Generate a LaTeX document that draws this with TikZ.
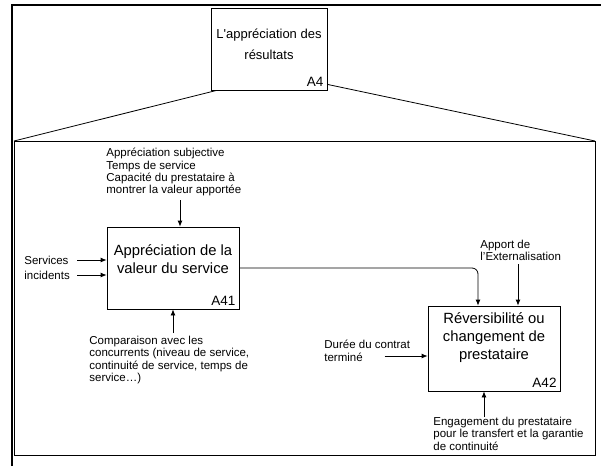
\documentclass[tikz,border=0pt]{standalone}
\usepackage{fontspec}
\setmainfont{Liberation Sans}
\usetikzlibrary{arrows.meta}
\begin{document}
\begin{tikzpicture}[>={Latex[length=6pt,width=5pt]},x=1pt,y=-1pt,line width=0.8pt,
		boite/.style={draw,inner sep=0pt,minimum width=132pt,minimum height=82pt},
		titre/.style={align=center,font=\fontsize{14.8}{18}\selectfont},
		numero/.style={anchor=south east,inner sep=3.5pt,font=\fontsize{13.5}{15}\selectfont},
		flux/.style={align=left,anchor=north west,inner sep=0pt,font=\fontsize{11.5}{12.2}\selectfont}]
		\useasboundingbox (0,0) rectangle (601,466);
		% cadre de la page et cadre du zoom
		\draw[line width=2pt] (11.5,466) |- (601,5);
		\coordinate (cadreNO) at (14,141);
		\coordinate (cadreNE) at (595,141);
		\draw (cadreNO) rectangle (595,455);
		% boite mere
		\node[boite,minimum width=116pt] (A4) at (269,49) {};
		\node[titre,font=\fontsize{13}{21}\selectfont] (t4) at ([yshift=4.5pt]A4.center) {L\textquotesingle appréciation des\\résultats};
		\node[numero] (n4) at (A4.south east) {A4};
		\draw ([xshift=6pt]A4.south west) -- (cadreNO);
		\draw ([yshift=6pt]A4.south east) -- (cadreNE);
		% A41
		\node[boite] (A41) at (173,268) {};
		\node[titre] (t41) at ([yshift=9pt]A41.center) {Appréciation de la\\valeur du service};
		\node[numero] (n41) at (A41.south east) {A41};
		\node[flux] (ctl41) at (106,148) {Appréciation subjective\\Temps de service\\Capacité du prestataire à\\montrer la valeur apportée};
		\node[flux,anchor=west] (svc) at (24,260) {Services};
		\node[flux,anchor=west] (inc) at (24,275) {incidents};
		\node[flux] (comp) at (89,336) {Comparaison avec les\\concurrents (niveau de service,\\continuité de service, temps de\\service…)};
		\draw[->] ([xshift=7pt]A41.north |- ctl41.south) ++(0,4) -- ([xshift=7pt]A41.north);
		\draw[->] (svc.west) ++(53,0) -- (svc -| A41.west);
		\draw[->] (inc.west) ++(53,0) -- (inc -| A41.west);
		\draw[->] (A41.south |- comp.north) ++(0,-3) -- (A41.south);
		% A42
		\node[boite,minimum height=85pt] (A42) at (494,348.5) {};
		\node[titre] (t42) at ([yshift=11pt]A42.center) {Réversibilité ou\\changement de\\prestataire};
		\node[numero] (n42) at (A42.south east) {A42};
		\node[flux] (apport) at (480,240) {Apport de\\l’Externalisation};
		\node[flux] (duree) at (324,340) {Durée du contrat\\terminé};
		\node[flux] (eng) at (433,417) {Engagement du prestataire\\pour le transfert et la garantie\\de continuité};
		\draw[->,rounded corners=6pt] (A41.east) -| ([xshift=-16pt]A42.north);
		\draw[->] ([xshift=24pt]A42.north |- apport.south) ++(0,3) -- ([xshift=24pt]A42.north);
		\draw[->] ([yshift=-7.5pt]A42.west) ++(-43,0) -- ([yshift=-7.5pt]A42.west);
		\draw[->] ([xshift=-10pt]A42.south |- eng.north) -- ([xshift=-10pt]A42.south);
\end{tikzpicture}
\end{document}
